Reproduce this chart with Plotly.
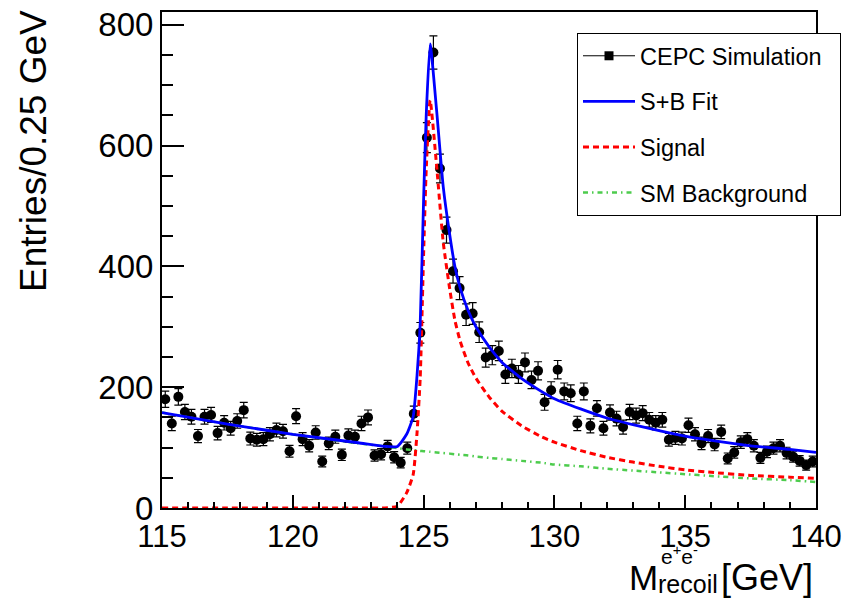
import numpy as np
import plotly.graph_objects as go

# ---------------- data ----------------
bin_width = 0.25
x_lo, x_hi = 115.0, 140.0
bin_centers = [115.125 + bin_width * i for i in range(100)]
counts = [180, 140, 184, 159, 151, 119, 151, 154, 124, 141,
          132, 144, 162, 115, 113, 114, 122, 129, 127, 94,
          152, 114, 103, 125, 77, 107, 118, 88, 120, 118,
          140, 150, 87, 89, 102, 84, 75, 99, 156, 290,
          613, 754, 562, 460, 392, 364, 320, 322, 291, 249,
          253, 260, 221, 231, 221, 241, 212, 227, 175, 195,
          229, 193, 190, 140, 193, 136, 165, 132, 158, 148,
          134, 159, 153, 157, 146, 141, 146, 113, 116, 115,
          137, 122, 107, 119, 105, 126, 82, 92, 109, 114,
          103, 83, 93, 99, 103, 91, 85, 78, 71, 77]
errors = list(np.sqrt(counts))

# fit curves
curve_x = [115.0, 117.5, 120.0, 122.5, 123.5, 124.0, 124.35, 124.6, 124.75,
           124.87, 125.0, 125.1, 125.25, 125.5, 125.75, 126.0, 126.2, 126.4,
           126.7, 127.0, 127.5, 128.0, 128.75, 129.5, 130.0, 131.0, 132.0,
           133.0, 134.0, 135.0, 136.0, 137.5, 139.0, 140.0]
sb_fit = [158, 139, 122, 108, 102, 102, 122, 151, 220,
          305, 510, 650, 768, 657, 532, 452, 399, 364,
          327, 300, 267, 241, 214, 193, 181, 164, 149,
          138, 128, 119, 112, 103, 97, 92]
signal = [0, 0, 0, 0, 0, 3, 25, 55, 125,
          215, 420, 560, 675, 565, 440, 362, 310, 276,
          240, 215, 184, 160, 136, 118, 109, 95, 84,
          76, 69, 63, 59, 54, 51, 49]
background = [158, 139, 122, 107, 102, 99, 97, 96, 95,
              94.5, 94, 93.5, 93, 92, 91, 90, 89, 88,
              87, 85, 83, 81, 78, 75, 72, 69, 65,
              62, 59, 56, 53, 49, 46, 43]

x_ticks = [115, 120, 125, 130, 135, 140]
y_ticks = [0, 200, 400, 600, 800]
y_max = 821

# ---------------- layout helpers ----------------
W, H = 845, 598
L, R, T, B = 162, 29, 12, 90
PW, PH = W - L - R, H - T - B


def px(xp):
    return (xp - L) / PW


def py(yp):
    return (H - B - yp) / PH


FONT = "Liberation Sans, Arial, Helvetica, sans-serif"
NB = "\u00a0"

fig = go.Figure()

# data points
fig.add_trace(go.Scatter(
    x=bin_centers, y=counts, mode="markers",
    marker=dict(color="black", size=10, symbol="circle"),
    error_y=dict(type="data", array=errors, color="black", thickness=1.2, width=4),
    showlegend=False,
))
# legend stand-in for data
fig.add_trace(go.Scatter(
    x=[None], y=[None], mode="lines+markers", name="CEPC Simulation" + NB * 2,
    line=dict(color="black", width=1),
    marker=dict(color="black", size=9, symbol="square"),
    legendgroup="a", legendrank=1,
))
fig.add_trace(go.Scatter(
    x=curve_x, y=background, mode="lines", name="SM Background",
    line=dict(color="#4dcc4d", width=2.5, dash="5px,4px,1.5px,4px", shape="spline", smoothing=0.5),
    legendgroup="d", legendrank=4,
))
fig.add_trace(go.Scatter(
    x=curve_x, y=signal, mode="lines", name="Signal",
    line=dict(color="#ff0000", width=3, dash="6px,4px", shape="spline", smoothing=0.5),
    legendgroup="c", legendrank=3,
))
fig.add_trace(go.Scatter(
    x=curve_x, y=sb_fit, mode="lines", name="S+B Fit",
    line=dict(color="#0000ff", width=2.8, shape="spline", smoothing=0.5),
    legendgroup="b", legendrank=2,
))

fig.update_layout(
    width=W, height=H,
    margin=dict(l=L, r=R, t=T, b=B, pad=0, autoexpand=False),
    paper_bgcolor="white", plot_bgcolor="white",
    font=dict(family=FONT, color="black"),
    legend=dict(
        x=px(577), y=py(33), xanchor="left", yanchor="top",
        bordercolor="black", borderwidth=1, bgcolor="white",
        font=dict(size=23.5, family=FONT), itemwidth=52,
        traceorder="grouped", tracegroupgap=12,
    ),
    xaxis=dict(
        range=[x_lo, x_hi], tickvals=x_ticks, ticktext=[str(v) for v in x_ticks],
        ticks="inside", ticklen=13, tickwidth=2, tickcolor="black",
        minor=dict(ticks="inside", ticklen=6, dtick=1, tickwidth=2, tickcolor="black"),
        showline=True, linecolor="black", linewidth=2, mirror=True,
        showgrid=False, zeroline=False,
        tickfont=dict(size=31, family=FONT),
    ),
    yaxis=dict(
        range=[0, y_max], tickvals=y_ticks, ticktext=[str(v) for v in y_ticks],
        ticks="inside", ticklen=22, tickwidth=2, tickcolor="black",
        minor=dict(ticks="inside", ticklen=11, dtick=50, tickwidth=2, tickcolor="black"),
        showline=True, linecolor="black", linewidth=2, mirror=True,
        showgrid=False, zeroline=False,
        tickfont=dict(size=33, family=FONT),
    ),
)

ann = [
    dict(text="Entries/0.25 GeV", x=px(33), y=py(8), xanchor="center", yanchor="top",
         textangle=-90, font=dict(size=37)),
    dict(text="M", x=px(627), y=py(577), xanchor="left", yanchor="middle", font=dict(size=35)),
    dict(text="e<sup>+</sup>e<sup>-</sup>", x=px(659), y=py(555), xanchor="left", yanchor="middle",
         font=dict(size=21)),
    dict(text="recoil", x=px(656), y=py(584), xanchor="left", yanchor="middle", font=dict(size=25)),
    dict(text="[GeV]", x=px(719), y=py(577), xanchor="left", yanchor="middle", font=dict(size=36)),
]
for a in ann:
    a.update(xref="paper", yref="paper", showarrow=False)
    a["font"]["family"] = FONT
    a["font"]["color"] = "black"
fig.update_layout(annotations=ann)

fig.write_html("out.html")
